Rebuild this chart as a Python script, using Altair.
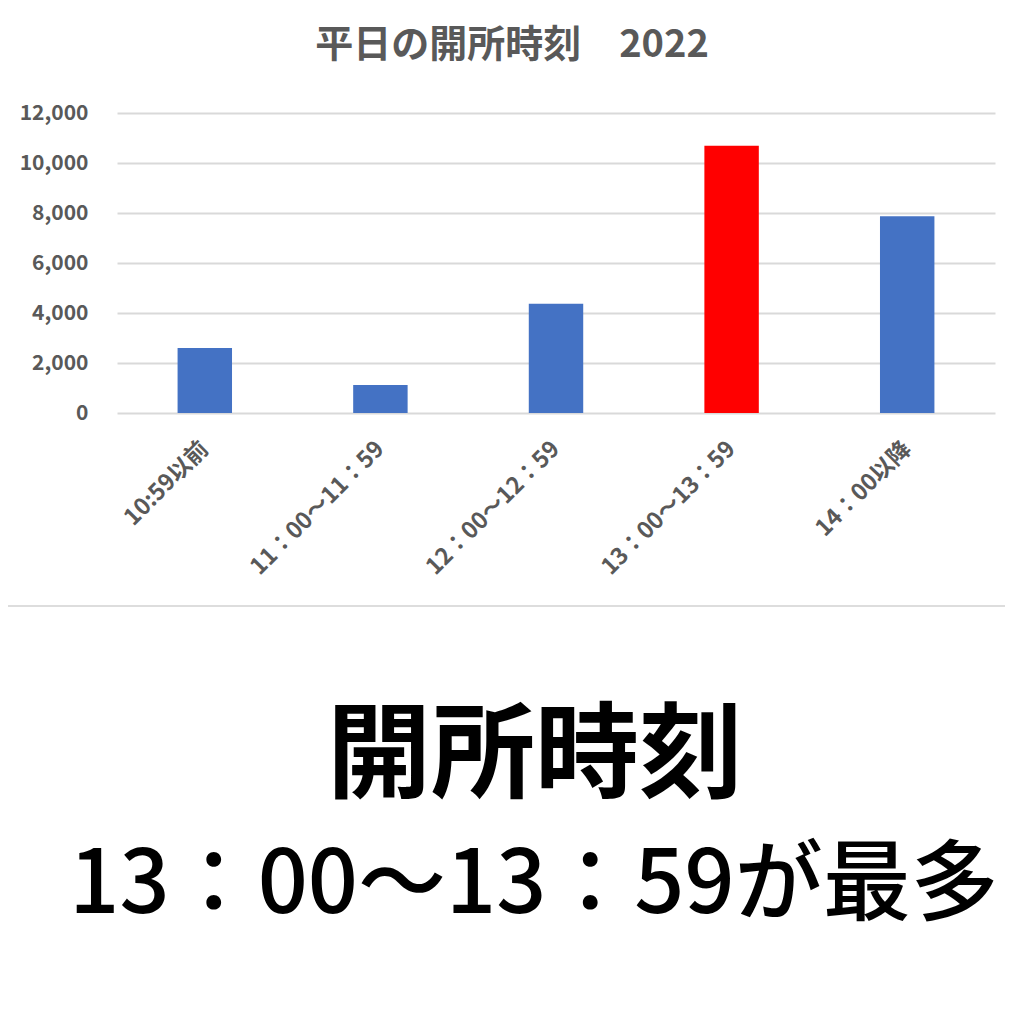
import altair as alt
import pandas as pd

categories = ["10:59以前", "11：00～11：59", "12：00～12：59", "13：00～13：59", "14：00以降"]
counts = [2600, 1120, 4370, 10690, 7870]
highlight = "13：00～13：59"
chart_title = "平日の開所時刻　2022"
headline = ["開所時刻"]
subline = ["13：00〜13：59が最多"]

FONT = "Noto Sans CJK JP"
GRAY = "#595959"

df = pd.DataFrame({"category": categories, "count": counts})

bars = alt.Chart(df).mark_bar().encode(
    x=alt.X("category:N", sort=categories, title=None,
            scale=alt.Scale(paddingInner=0.69, paddingOuter=0.345),
            axis=alt.Axis(labelAngle=-45, labelAlign="right", labelBaseline="middle",
                          labelPadding=32, labelFontSize=23, labelFontWeight="bold",
                          labelColor=GRAY, labelFont=FONT, domain=False, ticks=False,
                          grid=False)),
    y=alt.Y("count:Q", title=None,
            scale=alt.Scale(domain=[0, 12000]),
            axis=alt.Axis(values=[0, 2000, 4000, 6000, 8000, 10000, 12000], format=",.0f",
                          labelPadding=29, labelFontSize=21, labelFontWeight="bold",
                          labelColor=GRAY, labelFont=FONT, domain=False, ticks=False,
                          gridColor="#d9d9d9", gridWidth=2)),
    color=alt.condition(alt.datum.category == highlight, alt.value("#FF0000"), alt.value("#4472C4")),
)

divider = alt.Chart(pd.DataFrame({"k": [0]})).mark_rule(color="#dddddd", strokeWidth=2).encode(
    x=alt.value(-117), x2=alt.value(905), y=alt.value(493)
)

head = alt.Chart(pd.DataFrame({"t": headline})).mark_text(
    font=FONT, fontSize=104, fontWeight="bold", color="black", align="center", baseline="middle"
).encode(text="t:N", x=alt.value(418), y=alt.value(646))

sub = alt.Chart(pd.DataFrame({"t": subline})).mark_text(
    font=FONT, fontSize=88, fontWeight=500, color="black", align="center", baseline="middle"
).encode(text="t:N", x=alt.value(417), y=alt.value(774))

chart = alt.layer(bars, divider, head, sub).properties(
    width=878, height=300,
    background="white",
    autosize=alt.AutoSizeParams(type="none"),
    padding={"left": 109, "top": 105, "right": 10, "bottom": 590},
    title=alt.TitleParams(chart_title, font=FONT, fontSize=38, fontWeight="bold",
                          color=GRAY, anchor="middle", dx=-44, offset=37),
).configure_view(strokeWidth=0, stroke=None)

chart.save("out.html", embed_options={"renderer": "svg", "actions": False})
